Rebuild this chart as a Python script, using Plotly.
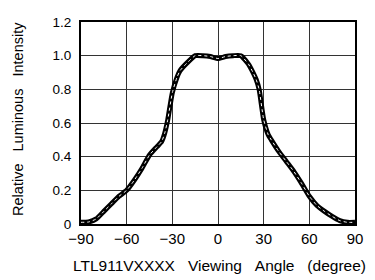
import plotly.graph_objects as go

angles = [-90, -85, -80, -75, -70, -65, -60, -55, -50, -45, -40, -37, -35, -33, -30, -27, -25, -20, -15,
          -10, -5, 0, 5, 10, 15, 20, 23, 25, 27, 30, 33, 35, 40, 45, 50, 55, 60, 65, 70, 75, 80, 85, 90]
intensity = [0.01, 0.012, 0.03, 0.075, 0.12, 0.165, 0.20, 0.26, 0.33, 0.41, 0.46, 0.49, 0.54, 0.62, 0.78,
             0.87, 0.91, 0.96, 1.0, 1.0, 0.995, 0.983, 0.995, 1.0, 1.0, 0.95, 0.90, 0.86, 0.80, 0.62,
             0.53, 0.50, 0.43, 0.37, 0.31, 0.24, 0.165, 0.11, 0.075, 0.045, 0.02, 0.01, 0.01]

x_ticks = [-90, -60, -30, 0, 30, 60, 90]
y_ticks = [0, 0.2, 0.4, 0.6, 0.8, 1.0, 1.2]
y_labels = ["0", "0.2", "0.4", "0.6", "0.8", "1.0", "1.2"]

FONT = "Liberation Sans, Arial, sans-serif"
SP3 = "\u00a0\u00a0\u00a0"

fig = go.Figure()
fig.add_trace(go.Scatter(x=angles, y=intensity, mode="lines",
                         line=dict(color="black", width=5, shape="spline", smoothing=0.5),
                         hoverinfo="skip", showlegend=False))
fig.add_trace(go.Scatter(x=angles, y=intensity, mode="lines",
                         line=dict(color="white", width=1, dash="dot", shape="spline", smoothing=0.5),
                         hoverinfo="skip", showlegend=False))

fig.update_layout(
    width=375, height=280,
    margin=dict(l=81, r=15, t=22, b=56),
    paper_bgcolor="white", plot_bgcolor="white",
    font=dict(family=FONT, size=14, color="black"),
    xaxis=dict(range=[-90, 90], tickvals=x_ticks, ticks="", showgrid=True,
               gridcolor="#333333", gridwidth=1, zeroline=False,
               showline=True, linecolor="black", linewidth=1.5, mirror=True,
               tickfont=dict(size=15), ticklabelstandoff=0),
    yaxis=dict(range=[0, 1.2], tickvals=y_ticks, ticktext=y_labels, ticks="", showgrid=True,
               gridcolor="#333333", gridwidth=1, zeroline=False,
               showline=True, linecolor="black", linewidth=2, mirror=True,
               tickfont=dict(size=13.5), ticklabelstandoff=5),
    annotations=[
        dict(text=SP3.join(["Relative", "Luminous", "Intensity"]), xref="paper", yref="paper",
             x=-0.23, y=0.52, xanchor="center", yanchor="middle",
             textangle=-90, showarrow=False, font=dict(size=14.5)),
        dict(text=SP3.join(["LTL911VXXXX", "Viewing", "Angle", "(degree)"]), xref="paper", yref="paper",
             x=0.505, y=-0.206, xanchor="center", yanchor="middle",
             showarrow=False, font=dict(size=15.5)),
    ],
)

fig.write_html("out.html", config={"displayModeBar": False},
               post_script="document.body.style.margin='0';")
